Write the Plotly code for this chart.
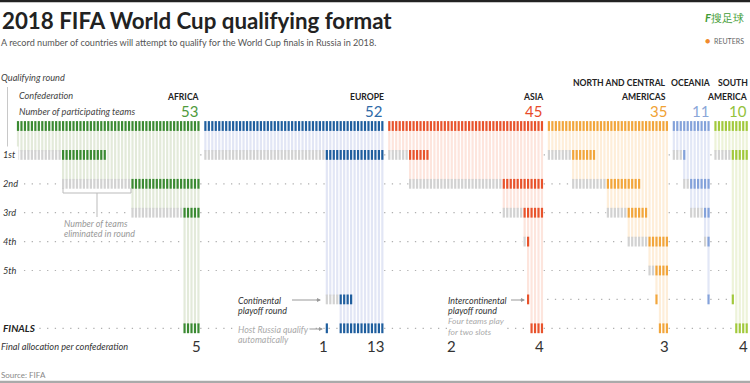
import plotly.graph_objects as go

# ---------------- data ----------------
confederations = ["AFRICA", "EUROPE", "ASIA", "NORTH AND CENTRAL AMERICAS", "OCEANIA", "SOUTH AMERICA"]
team_counts = [53, 52, 45, 35, 11, 10]
final_slots = [5, 13, 4, 3, 0, 4]
# rounds: row index (1=1st .. 5=5th, 6=playoff), teams eliminated, teams advancing
africa_rounds = [(1, 13, 13), (2, 20, 20), (3, 15, 5)]
europe_rounds = [(1, 35, 17), (6, 4, 4)]
asia_rounds = [(1, 6, 6), (2, 27, 12), (3, 6, 6), (4, 1, 1), (6, 0, 1)]
nca_rounds = [(1, 7, 7), (2, 10, 10), (3, 6, 6), (4, 6, 6), (5, 2, 4), (6, 0, 1)]
oceania_rounds = [(1, 3, 1), (2, 2, 6), (3, 4, 2), (4, 1, 1), (6, 0, 1)]
samerica_rounds = [(1, 5, 5), (6, 0, 1)]
all_rounds = [africa_rounds, europe_rounds, asia_rounds, nca_rounds, oceania_rounds, samerica_rounds]
host_confed = 1          # Europe
host_column = 35         # Russia, qualifies automatically
row_labels = ["1st", "2nd", "3rd", "4th", "5th"]
allocation_labels = ["5", "1", "13", "2", "4", "3", "4"]

dark_colors = ["#3b8a32", "#1f5e9e", "#e8532c", "#f2a63c", "#84a2da", "#a2c93c"]
light_colors = ["#e3eada", "#e2e6f5", "#fde5dd", "#feeed9", "#e2e7f6", "#edf3d9"]
label_colors = ["#4f9a3c", "#2e6aa8", "#e84b2b", "#f0a234", "#8aa6d8", "#93c23c"]
GRAY_TICK = "#d2d2d2"
FINAL_ROW = 7
PLAYOFF_ROW = 6

W, H = 750, 383
X0, DX = 18.0, 3.47
Y0, DY = 126.0, 28.9


def px_to_x(px):
    return (px - X0) / DX


def py_to_y(py):
    return (py - Y0) / DY


# ---------------- build marks ----------------
fig = go.Figure()

offsets = []
off = 0
for n in team_counts:
    offsets.append(off)
    off += n + 1

dot_cols = {r: set() for r in range(1, FINAL_ROW + 1)}
gray_x, gray_y = [], []

for ci, (n, rounds, nfin) in enumerate(zip(team_counts, all_rounds, final_slots)):
    o = offsets[ci]
    last_row = [0] * n
    alive_start = 0
    dark_x, dark_y = [o + c for c in range(n)], [0] * n
    for (row, el, adv) in rounds:
        for k in range(el):
            c = alive_start + k
            gray_x.append(o + c)
            gray_y.append(row)
            last_row[c] = row
        for k in range(adv):
            c = alive_start + el + k
            dark_x.append(o + c)
            dark_y.append(row)
            last_row[c] = row
        alive_start += el
    for c in range(n - nfin, n):
        last_row[c] = FINAL_ROW
        dark_x.append(o + c)
        dark_y.append(FINAL_ROW)
    if ci == host_confed:
        dark_x.append(o + host_column)
        dark_y.append(FINAL_ROW)
    # light vertical lines
    lx, ly = [], []
    for c in range(n):
        if last_row[c] > 0:
            lx += [o + c, o + c, None]
            ly += [0.12, last_row[c] - 0.12, None]
    fig.add_trace(go.Scatter(x=lx, y=ly, mode="lines", hoverinfo="skip",
                             line=dict(color=light_colors[ci], width=2.2), showlegend=False))
    # dotted-line columns
    for r in range(1, FINAL_ROW + 1):
        if r == PLAYOFF_ROW and ci < 3:
            continue
        for c in range(n):
            if last_row[c] < r and not (ci == host_confed and r == FINAL_ROW and c == host_column):
                dot_cols[r].add(o + c)
        if ci < len(team_counts) - 1 and not (r == PLAYOFF_ROW and ci < 2):
            dot_cols[r].add(o + n)
    fig.add_trace(go.Scatter(x=dark_x, y=dark_y, mode="markers", hoverinfo="skip", showlegend=False,
                             marker=dict(symbol="line-ns", size=7,
                                         line=dict(color=dark_colors[ci], width=2.2))))

# dotted horizontal lines (segments where no team is active)
dx_, dy_ = [], []
for r in range(1, FINAL_ROW + 1):
    cols = sorted(dot_cols[r])
    if r in (2, 3, 4, 5):
        cols = [-1.8] + cols if cols and cols[0] == 0 else cols
    segs = []
    for c in cols:
        if segs and c - segs[-1][1] <= 1.01:
            segs[-1][1] = c
        else:
            segs.append([c, c])
    for a, b in segs:
        dx_ += [a - 0.5, b + 0.5, None]
        dy_ += [r, r, None]
fig.add_trace(go.Scatter(x=dx_, y=dy_, mode="lines", hoverinfo="skip", showlegend=False,
                         line=dict(color="#b0b0b0", width=1.2, dash="1.3px,6.4px")))
fig.add_trace(go.Scatter(x=gray_x, y=gray_y, mode="markers", hoverinfo="skip", showlegend=False,
                         marker=dict(symbol="line-ns", size=7, line=dict(color=GRAY_TICK, width=2.2))))

# ---------------- text ----------------
FONT = "Lato"
ann = []


def text(px, py, s, size=9, color="#333", xanchor="left", bold=False, italic=False, bg=None, yanchor="middle"):
    if bold:
        s = "<b>" + s + "</b>"
    if italic:
        s = "<i>" + s + "</i>"
    d = dict(x=px / W, y=1 - py / H, xref="paper", yref="paper", text=s, showarrow=False,
             xanchor=xanchor, yanchor=yanchor, font=dict(family=FONT, size=size, color=color),
             align=xanchor if xanchor != "center" else "center", borderpad=0)
    if bg:
        d["bgcolor"] = bg
    ann.append(d)


text(1, 20, "2018 FIFA World Cup qualifying format", size=22.3, color="#222", bold=True)
text(0, 42, "A record number of countries will attempt to qualify for the World Cup finals in Russia in 2018.",
     size=9.1, color="#555")
text(0, 77, "Qualifying round", size=9.2, color="#444", italic=True)
text(18, 96, "Confederation", size=9.2, color="#444", italic=True)
text(18, 111, "Number of participating teams", size=9.2, color="#444", italic=True)

# confederation names and team counts
name_px = [201, 385, 545, 667, 712, 749]
NAME_SIZE = 8.6
for ci, name in enumerate(confederations):
    if ci == 3:
        text(name_px[ci], 83, "NORTH AND CENTRAL", size=NAME_SIZE, color="#222", xanchor="right", bold=True)
        text(name_px[ci], 96.5, "AMERICAS", size=NAME_SIZE, color="#222", xanchor="right", bold=True)
    elif ci == 4:
        text(name_px[ci], 83, name, size=NAME_SIZE, color="#222", xanchor="right", bold=True)
    elif ci == 5:
        text(name_px[ci], 83, "SOUTH", size=NAME_SIZE, color="#222", xanchor="right", bold=True)
        text(name_px[ci], 96.5, "AMERICA", size=NAME_SIZE, color="#222", xanchor="right", bold=True)
    else:
        text(name_px[ci], 96.5, name, size=NAME_SIZE, color="#222", xanchor="right", bold=True)
    last = offsets[ci] + team_counts[ci] - 1
    ann.append(dict(x=last + 0.3, y=py_to_y(111), xref="x", yref="y", text=str(team_counts[ci]),
                    showarrow=False, xanchor="right", yanchor="middle", borderpad=0,
                    font=dict(family=FONT, size=15, color=label_colors[ci])))

# row labels
for i, lab in enumerate(row_labels):
    ann.append(dict(x=0, y=i + 1, xref="paper", yref="y", text="<i>" + lab + "</i>", showarrow=False,
                    xanchor="left", yanchor="middle", bgcolor="white", borderpad=2,
                    font=dict(family=FONT, size=9.2, color="#333")))
ann.append(dict(x=0, y=FINAL_ROW, xref="paper", yref="y", text="<b><i>FINALS</i></b>", showarrow=False,
                xanchor="left", yanchor="middle", bgcolor="white", borderpad=2,
                font=dict(family=FONT, size=10, color="#222")))
text(0, 346, "Final allocation per confederation", size=9.2, color="#333", italic=True)

# final allocation numbers
alloc_x = [offsets[0] + 52 + 0.9, offsets[1] + host_column + 0.6, offsets[1] + 51 + 0.8,
           px_to_x(446), offsets[2] + 44 + 0.8, offsets[3] + 34 + 0.8, offsets[5] + 9 + 0.8]
alloc_anchor = ["right", "right", "right", "left", "right", "right", "right"]
for lab, x, a in zip(allocation_labels, alloc_x, alloc_anchor):
    ann.append(dict(x=x, y=py_to_y(346), xref="x", yref="y", text=lab, showarrow=False,
                    xanchor=a, yanchor="middle", borderpad=0,
                    font=dict(family=FONT, size=15, color="#333")))

# notes
NOTE = 8.9
text(237, 300, "Continental", size=NOTE, color="#333", italic=True)
text(237, 310, "playoff round", size=NOTE, color="#333", italic=True)
text(237, 329, "Host Russia qualify", size=NOTE, color="#aaa", italic=True, bg="white")
text(237, 339, "automatically", size=NOTE, color="#aaa", italic=True)
text(447, 300, "Intercontinental", size=NOTE, color="#333", italic=True)
text(447, 310, "playoff round", size=NOTE, color="#333", italic=True)
text(447, 315, "Four teams play<br>for two slots", size=8.5, color="#aaa", italic=True, bg="white",
     yanchor="top")
text(63, 223, "Number of teams", size=NOTE, color="#999", italic=True)
text(63, 233, "eliminated in round", size=NOTE, color="#999", italic=True)
text(0, 375, "Source: FIFA", size=8, color="#888")

# logos
text(745, 17, "<b><i>F</i></b>搜足球", size=11, color="#3f9c35", xanchor="right")
text(745, 41, "REUTERS", size=7, color="#666", xanchor="right")
text(711, 41, "●", size=9, color="#f08a2c", xanchor="right")

# arrows and brackets (in pixel space)
shapes = []


def seg(x0, y0, x1, y1, color="#aaa", width=1):
    shapes.append(dict(type="line", xref="paper", yref="paper", x0=x0 / W, x1=x1 / W,
                       y0=1 - y0 / H, y1=1 - y1 / H, line=dict(color=color, width=width)))


seg(0, 1, 750, 1, color="#222", width=2.5)
seg(0, 382, 750, 382, color="#aaa", width=2.5)
seg(7.5, 87, 7.5, 148, color="#c8c8c8", width=1)
# bracket under eliminated teams
seg(63, 193, 131, 193, color="#bbb")
seg(63, 188, 63, 193, color="#bbb")
seg(131, 188, 131, 193, color="#bbb")
seg(97, 193, 97, 217, color="#bbb")
# arrows
for (x0, x1, y) in [(292, 321, 300), (306, 323, 329), (511, 525, 300)]:
    seg(x0, y, x1 - 2, y, color="#999", width=1)
    ann.append(dict(x=x1 / W, y=1 - y / H, xref="paper", yref="paper",
                    axref="pixel", ayref="pixel", ax=-6, ay=0, showarrow=True, arrowhead=2,
                    arrowsize=0.8, arrowwidth=1, arrowcolor="#999", text=""))

fig.update_layout(
    width=W, height=H, margin=dict(l=0, r=0, t=0, b=0),
    paper_bgcolor="white", plot_bgcolor="white",
    xaxis=dict(range=[px_to_x(0), px_to_x(W)], visible=False, fixedrange=True),
    yaxis=dict(range=[py_to_y(H), py_to_y(0)], visible=False, fixedrange=True),
    annotations=ann, shapes=shapes, showlegend=False,
)
fig.write_html("out.html", config={"displayModeBar": False},
               post_script="document.body.style.margin='0';document.body.style.overflow='hidden';")
